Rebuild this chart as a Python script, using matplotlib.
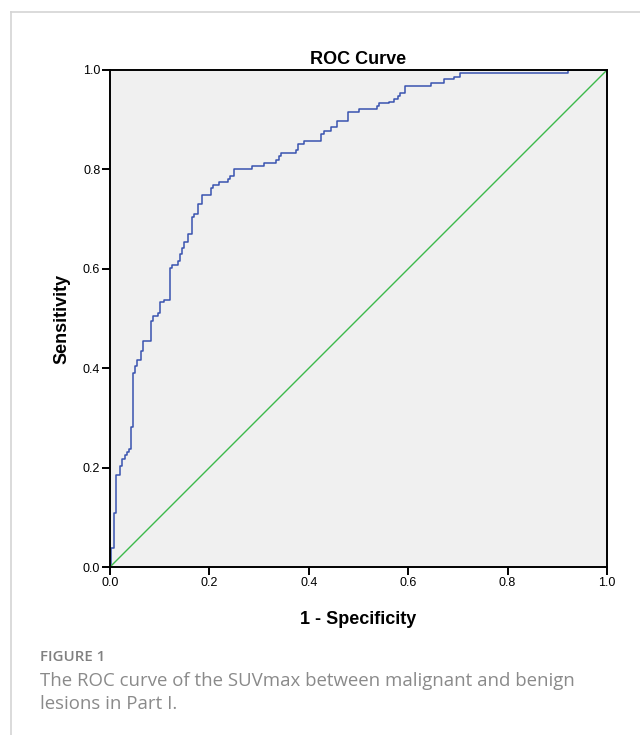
import numpy as np
import matplotlib
matplotlib.use("Agg")
import matplotlib.pyplot as plt
from matplotlib.lines import Line2D

# ROC step vertices (1 - specificity, sensitivity)
fpr = [0.000, 0.003, 0.008, 0.012, 0.021, 0.025, 0.030, 0.034, 0.038, 0.042,
       0.046, 0.050, 0.054, 0.063, 0.066, 0.083, 0.087, 0.097, 0.100, 0.108,
       0.121, 0.125, 0.137, 0.141, 0.145, 0.149, 0.157, 0.165, 0.169, 0.178,
       0.186, 0.203, 0.207, 0.220, 0.238, 0.241, 0.249, 0.286, 0.310, 0.335,
       0.340, 0.344, 0.375, 0.378, 0.390, 0.424, 0.431, 0.444, 0.456, 0.479,
       0.501, 0.538, 0.542, 0.561, 0.572, 0.580, 0.583, 0.593, 0.645, 0.673,
       0.692, 0.705, 0.921, 1.000]
tpr = [0.000, 0.038, 0.109, 0.185, 0.204, 0.217, 0.225, 0.231, 0.237, 0.282,
       0.390, 0.404, 0.416, 0.435, 0.455, 0.494, 0.506, 0.512, 0.533, 0.538,
       0.602, 0.608, 0.615, 0.629, 0.641, 0.653, 0.671, 0.705, 0.710, 0.730,
       0.749, 0.762, 0.768, 0.775, 0.781, 0.787, 0.801, 0.807, 0.812, 0.819,
       0.826, 0.832, 0.839, 0.852, 0.858, 0.871, 0.878, 0.885, 0.897, 0.915,
       0.922, 0.928, 0.933, 0.935, 0.941, 0.948, 0.954, 0.968, 0.973, 0.981,
       0.986, 0.993, 1.000, 1.000]
ref_line = [0.0, 1.0]
ticks = [0.0, 0.2, 0.4, 0.6, 0.8, 1.0]

plt.rcParams['font.family'] = ['Liberation Sans', 'DejaVu Sans']

fig = plt.figure(figsize=(6.4, 7.35), dpi=100, facecolor='white')

# card border (left and top)
fig.add_artist(Line2D([11/640, 11/640], [0, 1 - 12/735], transform=fig.transFigure,
                      color='#d4d4d4', linewidth=1.2))
fig.add_artist(Line2D([11/640, 1], [1 - 12/735, 1 - 12/735], transform=fig.transFigure,
                      color='#d4d4d4', linewidth=1.2))

ax = fig.add_axes([110/640, 168/735, 497/640, 497/735])
ax.set_facecolor('#f0f0f0')

ax.plot(fpr, tpr, drawstyle='steps-post', color='#3953b0', linewidth=1.1)
ax.plot(ref_line, ref_line, color='#3cb94a', linewidth=1.0)

ax.set_xlim(0, 1)
ax.set_ylim(0, 1)
ax.set_xticks(ticks)
ax.set_yticks(ticks)
ax.set_xticklabels([f"{t:.1f}" for t in ticks])
ax.set_yticklabels([f"{t:.1f}" for t in ticks])
ax.tick_params(direction='out', length=6, width=1.4, labelsize=9, color='black', pad=1)
for sp in ax.spines.values():
    sp.set_color('black')
    sp.set_linewidth(1.4)

ax.set_title("ROC Curve", fontsize=13, fontweight='bold', pad=4)
ax.set_xlabel("1 - Specificity", fontsize=13, fontweight='bold', labelpad=16)
ax.set_ylabel("Sensitivity", fontsize=13, fontweight='bold', labelpad=9)

# caption
fig.text(40/640, 1 - 657/735, "FIGURE 1", fontsize=10.8, color='#808080',
         family=['Open Sans', 'DejaVu Sans'], fontweight='semibold', va='center')
fig.text(40/640, 1 - 681/735, "The ROC curve of the SUVmax between malignant and benign",
         fontsize=13.4, color='#8a8a8a', family=['Open Sans', 'DejaVu Sans'], va='center')
fig.text(40/640, 1 - 704/735, "lesions in Part I.",
         fontsize=13.4, color='#8a8a8a', family=['Open Sans', 'DejaVu Sans'], va='center')

fig.savefig("out.png", dpi=100, facecolor='white')
